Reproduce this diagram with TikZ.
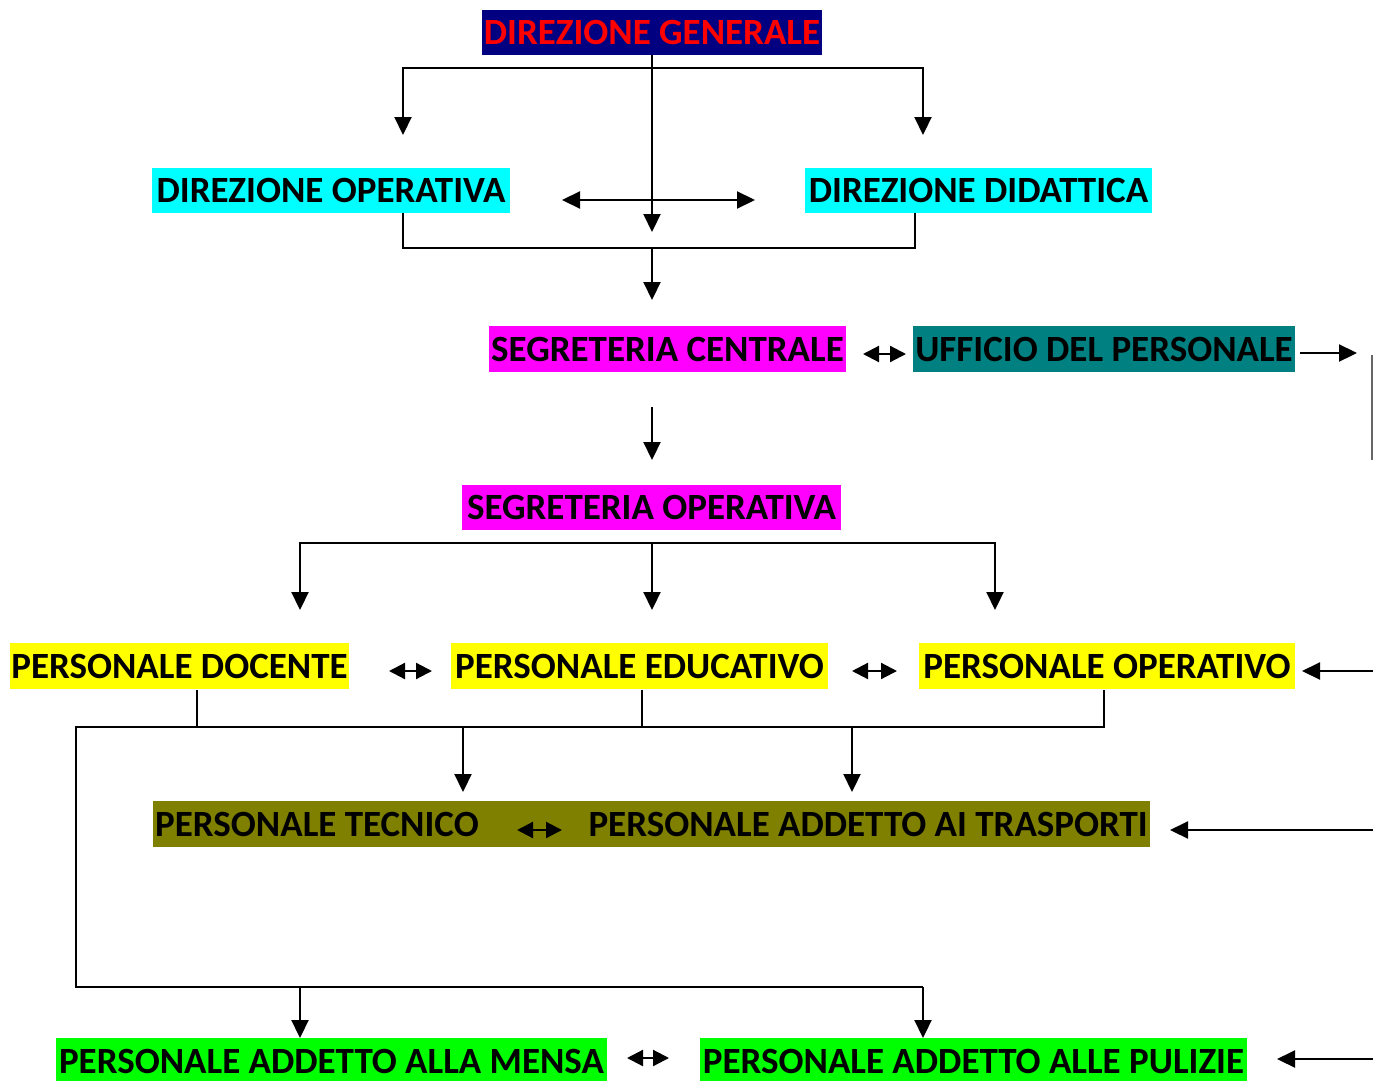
\documentclass[tikz,border=0pt]{standalone}
\usepackage{fontspec}
\setmainfont{Carlito}
\usetikzlibrary{arrows.meta}
\definecolor{navyc}{RGB}{0,0,128}
\definecolor{tealc}{RGB}{0,128,128}
\definecolor{olivec}{RGB}{128,128,0}
\definecolor{cyanc}{RGB}{0,255,255}
\definecolor{magc}{RGB}{255,0,255}
\definecolor{yelc}{RGB}{255,255,0}
\definecolor{grnc}{RGB}{0,255,0}
\definecolor{redc}{RGB}{255,0,0}
\begin{document}
\begin{tikzpicture}[x=1pt,y=-1pt,
  lbl/.style={inner sep=0pt, font=\fontsize{37}{40}\selectfont\bfseries, text=black, text height=24pt, text depth=0pt},
  box/.style={lbl, minimum height=46pt},
  ln/.style={line width=2.2pt},
  tip/.tip={Triangle[length=18pt,width=17pt]},
  stip/.tip={Triangle[length=16pt,width=16pt]},
  arr/.style={ln, -tip},
  barr/.style={ln, tip-tip},
  darr/.style={ln, stip-stip}]
\useasboundingbox (0,0) rectangle (1373,1081);

% boxes
\node[box, fill=navyc, text=redc, minimum width=340pt, minimum height=45pt] (dg) at (652,32.5) {DIREZIONE GENERALE};
\node[box, fill=cyanc, minimum width=358pt, minimum height=45pt] (do) at (331,190.5) {DIREZIONE OPERATIVA};
\node[box, fill=cyanc, minimum width=347pt, minimum height=45pt] (dd) at (978.5,190.5) {DIREZIONE DIDATTICA};
\node[box, fill=magc, minimum width=357pt] (sc) at (667.5,349) {SEGRETERIA CENTRALE};
\node[box, fill=tealc, minimum width=382pt] (up) at (1104,349) {UFFICIO DEL PERSONALE};
\node[box, fill=magc, minimum width=379pt, minimum height=45pt] (so) at (651.5,507.5) {SEGRETERIA OPERATIVA};
\node[box, fill=yelc, minimum width=339pt] (pd) at (179.5,666) {PERSONALE DOCENTE};
\node[box, fill=yelc, minimum width=377pt] (pe) at (639.5,666) {PERSONALE EDUCATIVO};
\node[box, fill=yelc, minimum width=376pt] (po) at (1107,666) {PERSONALE OPERATIVO};
\node[box, fill=olivec, minimum width=997pt] (ol) at (651.5,824) {};
\node[lbl, anchor=west] (pt) at (155,824) {PERSONALE TECNICO};
\node[lbl, anchor=east] (ptr) at (1148,824) {PERSONALE ADDETTO AI TRASPORTI};
\node[box, fill=grnc, minimum width=551pt] (pm) at (331.5,1061) {PERSONALE ADDETTO ALLA MENSA};
\node[box, fill=grnc, minimum width=547pt] (pp) at (973.5,1061) {PERSONALE ADDETTO ALLE PULIZIE};

% coordinates
\coordinate (a1) at (403,135);
\coordinate (a2) at (403,68);
\coordinate (a3) at (923,68);
\coordinate (a4) at (923,135);
\coordinate (a5) at (652,232);
\coordinate (b1) at (562,200);
\coordinate (b2) at (755,200);
\coordinate (c1) at (403,213);
\coordinate (c2) at (403,248);
\coordinate (c3) at (915,248);
\coordinate (c4) at (915,213);
\coordinate (c5) at (652,248);
\coordinate (c6) at (652,300);
\coordinate (d1) at (863,354);
\coordinate (d2) at (906,354);
\coordinate (d3) at (1300,353);
\coordinate (d4) at (1357,353);
\coordinate (d5) at (1372,355);
\coordinate (d6) at (1372,460);
\coordinate (e1) at (652,407);
\coordinate (e2) at (652,460);
\coordinate (f1) at (300,610);
\coordinate (f2) at (300,543);
\coordinate (f3) at (995,543);
\coordinate (f4) at (995,610);
\coordinate (f5) at (652,543);
\coordinate (f6) at (652,610);
\coordinate (g1) at (389,671);
\coordinate (g2) at (432,671);
\coordinate (g3) at (852,671);
\coordinate (g4) at (897,671);
\coordinate (g5) at (1373,671);
\coordinate (g6) at (1302,671);
\coordinate (h1) at (197,690);
\coordinate (h2) at (197,727);
\coordinate (h3) at (642,690);
\coordinate (h4) at (642,727);
\coordinate (h5) at (1104,690);
\coordinate (h6) at (1104,727);
\coordinate (h7) at (76,727);
\coordinate (h8) at (76,987);
\coordinate (h9) at (923,987);
\coordinate (i1) at (300,987);
\coordinate (i2) at (300,1038);
\coordinate (i3) at (923,1038);
\coordinate (j1) at (463,727);
\coordinate (j2) at (463,792);
\coordinate (j3) at (852,727);
\coordinate (j4) at (852,792);
\coordinate (k1) at (517,830);
\coordinate (k2) at (562,830);
\coordinate (k3) at (1373,830);
\coordinate (k4) at (1170,830);
\coordinate (m1) at (627,1058);
\coordinate (m2) at (669,1058);
\coordinate (m3) at (1373,1059);
\coordinate (m4) at (1277,1059);

% connectors
\draw[barr] (a1) -- (a2) -- (a3) -- (a4);
\draw[arr] (dg.south) -- (a5);
\draw[barr] (b1) -- (b2);
\draw[ln] (c1) -- (c2) -- (c3) -- (c4);
\draw[arr] (c5) -- (c6);
\draw[darr] (d1) -- (d2);
\draw[arr] (d3) -- (d4);
\draw[line width=1.5pt, black!60] (d5) -- (d6);
\draw[arr] (e1) -- (e2);
\draw[barr] (f1) -- (f2) -- (f3) -- (f4);
\draw[arr] (f5) -- (f6);
\draw[darr] (g1) -- (g2);
\draw[darr] (g3) -- (g4);
\draw[arr] (g5) -- (g6);
\draw[ln] (h1) -- (h2);
\draw[ln] (h3) -- (h4);
\draw[ln] (h5) -- (h6) -- (h7) -- (h8) -- (h9);
\draw[arr] (h9) -- (i3);
\draw[arr] (i1) -- (i2);
\draw[arr] (j1) -- (j2);
\draw[arr] (j3) -- (j4);
\draw[darr] (k1) -- (k2);
\draw[arr] (k3) -- (k4);
\draw[darr] (m1) -- (m2);
\draw[arr] (m3) -- (m4);
\end{tikzpicture}
\end{document}
